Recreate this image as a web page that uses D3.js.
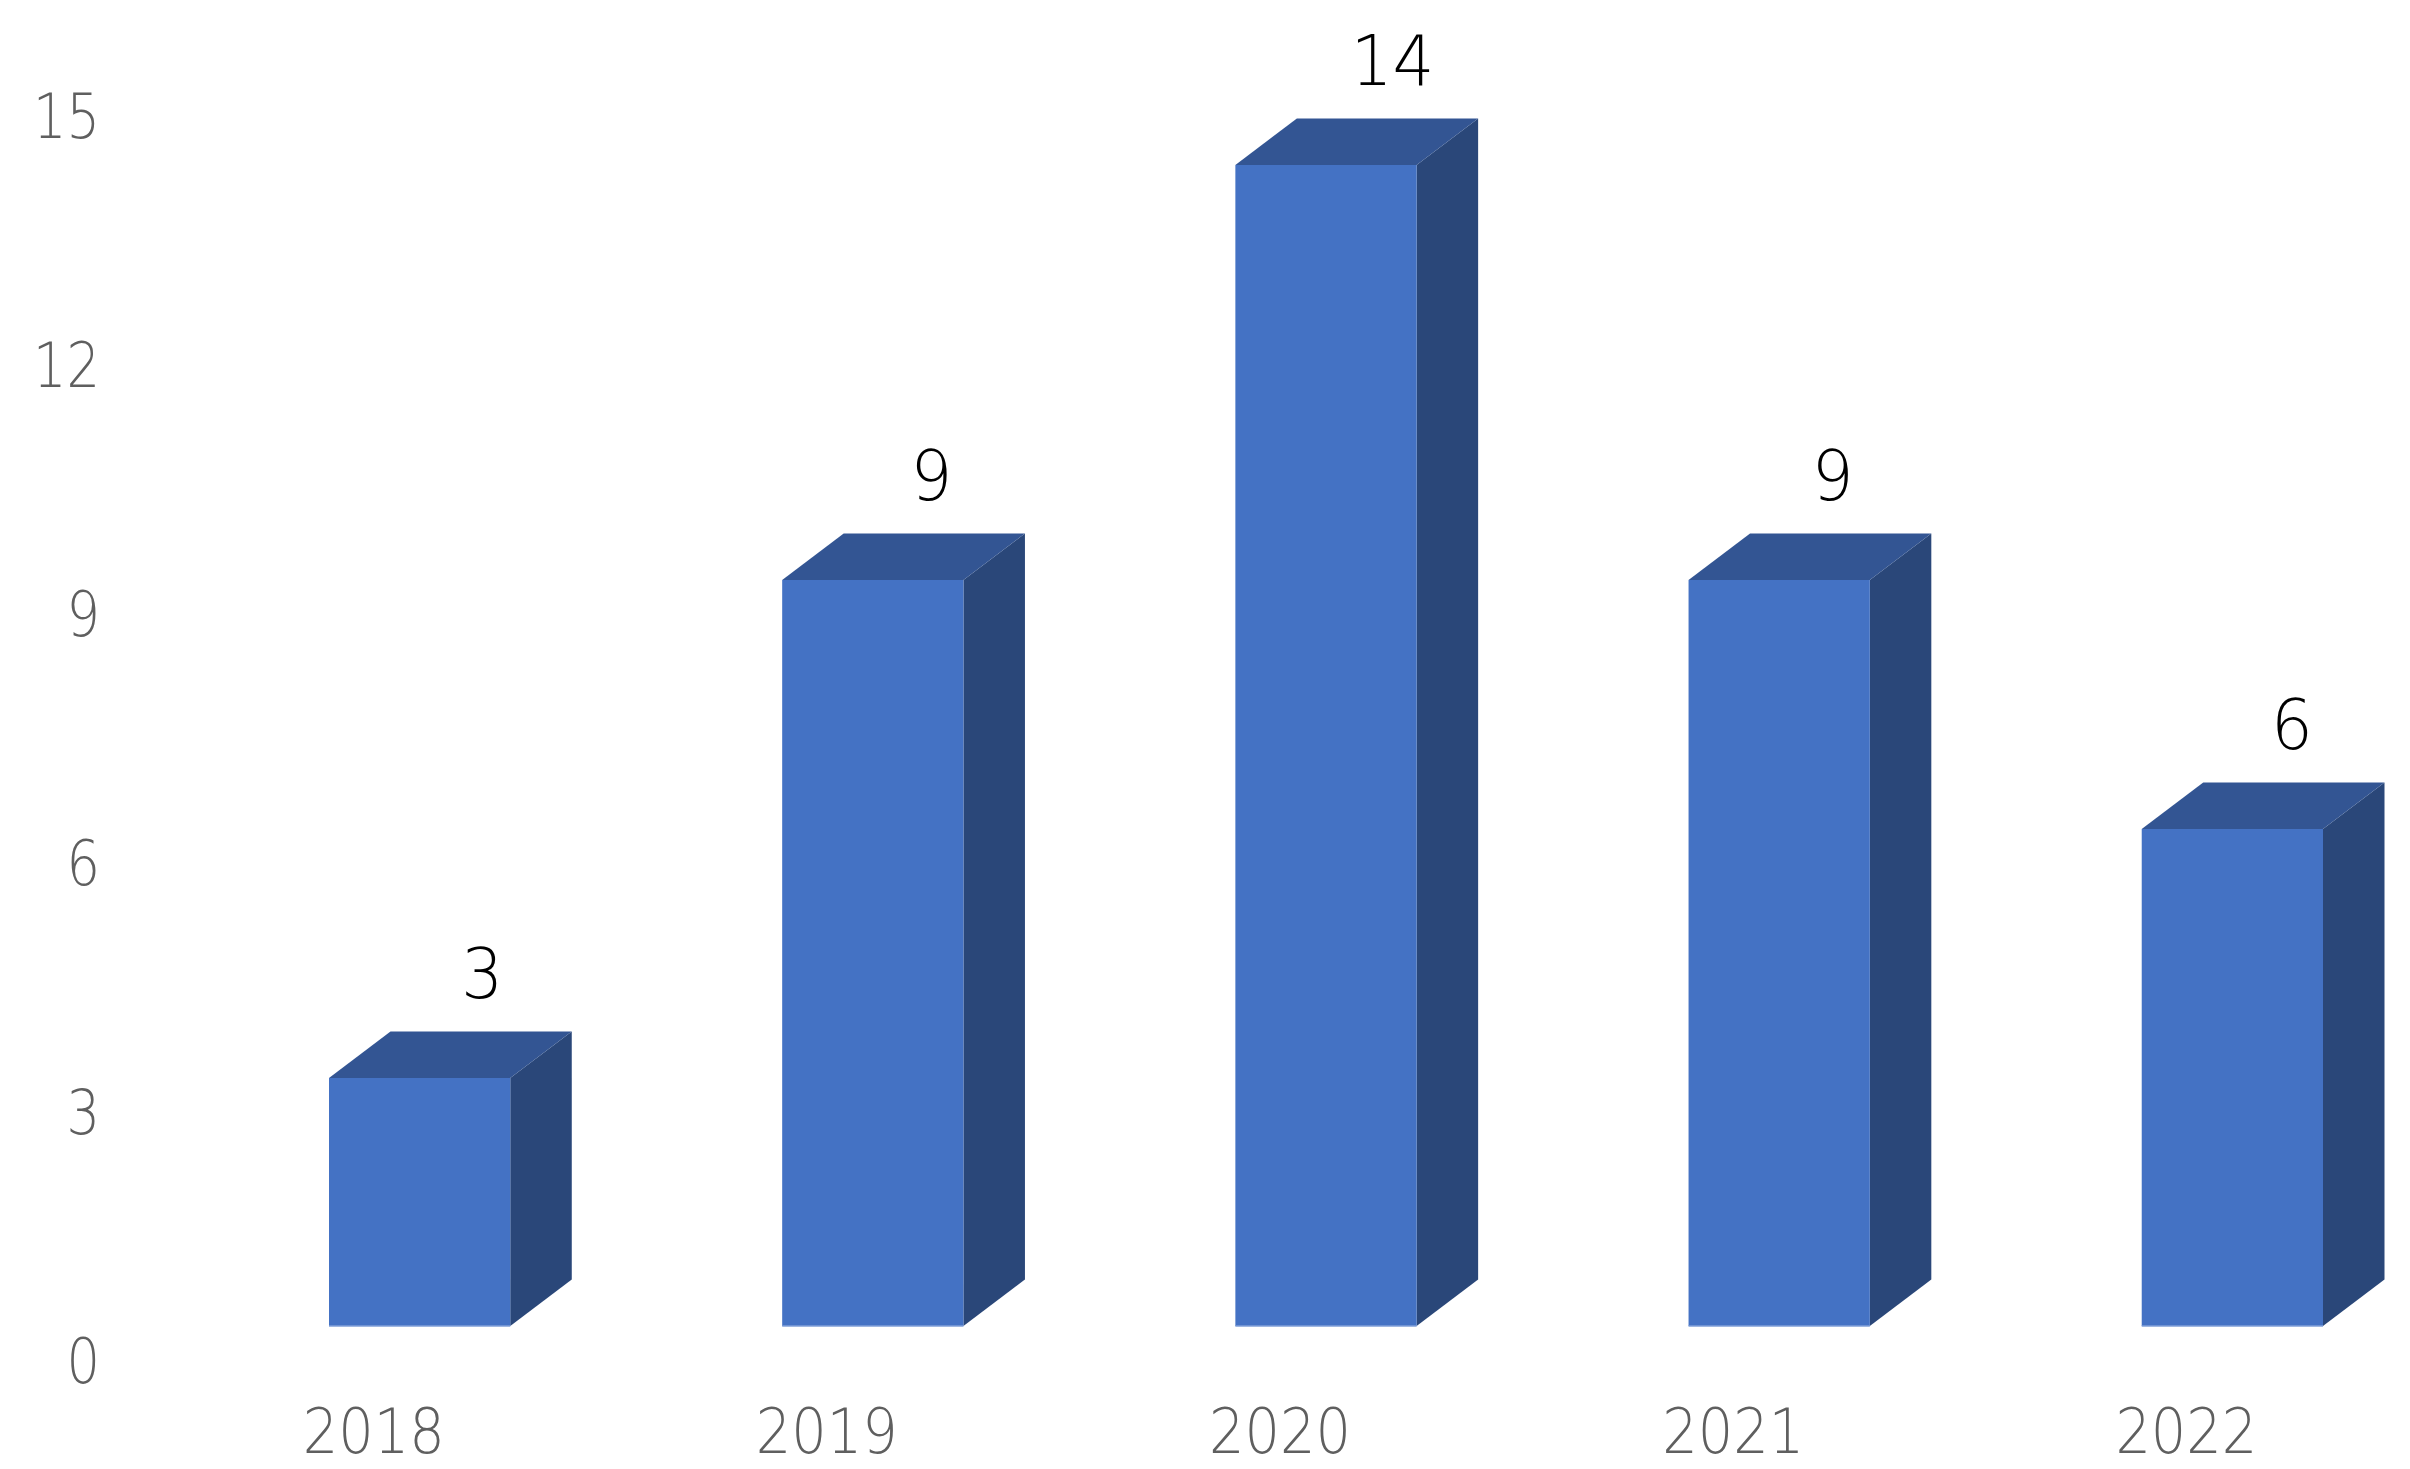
<!DOCTYPE html>
<html>
<head>
<meta charset="utf-8">
<script src="https://cdnjs.cloudflare.com/ajax/libs/d3/7.8.5/d3.min.js"></script>
<style>
html,body{margin:0;padding:0;background:#fff;}
svg{display:block;}
text{font-family:"DejaVu Sans",sans-serif;font-weight:200;}
</style>
</head>
<body>
<svg id="chart" width="2410" height="1469"></svg>
<script>
const years = ["2018","2019","2020","2021","2022"];
const counts = [3,9,14,9,6];
const tickValues = [0,3,6,9,12,15];
const labelNudge = [1,-3,5,-8,-2];

const W = 2410, H = 1469;
const baseY = 1326, unit = 83;
const depthX = 61.5, depthY = 46.5;
const colFront = "#4472C4", colTop = "#335593", colSide = "#2A4779", colEdge = "#7F9FD8", colAxis = "#5F5F5F";

const svg = d3.select("#chart");
const x = d3.scaleBand().domain(years).range([329, 2323]).paddingInner(0.6).paddingOuter(0);
const y = d3.scaleLinear().domain([0,15]).range([baseY, baseY - 15*unit]);

// Digits in the reference are narrower than this face: squeeze them horizontally.
const squeezeX = 0.9, squeezeY = 0.85, squeezeV = 0.94;

const bars = svg.append("g").selectAll("g").data(years.map((c,i)=>({c,v:counts[i],i}))).join("g");
const bw = x.bandwidth();

bars.append("path").attr("fill",colSide)
  .attr("d",d=>{const r=x(d.c)+bw;return d3.line()([[r,y(d.v)+1],[r+depthX,y(d.v)+1-depthY],[r+depthX,y(0)-depthY],[r,y(0)]])+"Z";});
bars.append("path").attr("fill",colTop)
  .attr("d",d=>{const l=x(d.c);return d3.line()([[l,y(d.v)+1],[l+depthX,y(d.v)+1-depthY],[l+bw+depthX,y(d.v)+1-depthY],[l+bw,y(d.v)+1]])+"Z";});
bars.append("rect").attr("fill",colFront)
  .attr("x",d=>x(d.c)).attr("y",d=>y(d.v)+1).attr("width",bw).attr("height",d=>y(0)-y(d.v)-1);
bars.append("line").attr("stroke",colEdge).attr("stroke-width",1.5)
  .attr("x1",d=>x(d.c)).attr("x2",d=>x(d.c)+bw).attr("y1",y(0)).attr("y2",y(0));

// value labels
bars.append("text").text(d=>d.v)
  .attr("transform",d=>`translate(${x(d.c)+bw/2+depthX+labelNudge[d.i]},${y(d.v)-depthY-33}) scale(${squeezeV},1)`)
  .attr("text-anchor","middle")
  .attr("font-size",70).attr("fill","#000");

// y axis
const yAxis = svg.append("g").attr("transform","translate(100,34)")
  .call(d3.axisLeft(y).tickValues(tickValues).tickSize(0).tickPadding(0).tickFormat(d3.format("d")));
yAxis.select(".domain").remove();
yAxis.attr("font-family",null);
yAxis.selectAll("text").attr("font-size",62).attr("fill",colAxis)
  .attr("x",0).attr("dy",0).attr("y",22)
  .attr("transform",`scale(${squeezeY},1)`);

// x axis
const xAxis = svg.append("g").attr("transform","translate(-46,1453)")
  .call(d3.axisBottom(x).tickSize(0).tickPadding(0));
xAxis.select(".domain").remove();
xAxis.attr("font-family",null);
xAxis.selectAll("text").attr("font-size",62).attr("fill",colAxis)
  .attr("dy",0).attr("y",0)
  .attr("transform",`scale(${squeezeX},1)`);
</script>
</body>
</html>
